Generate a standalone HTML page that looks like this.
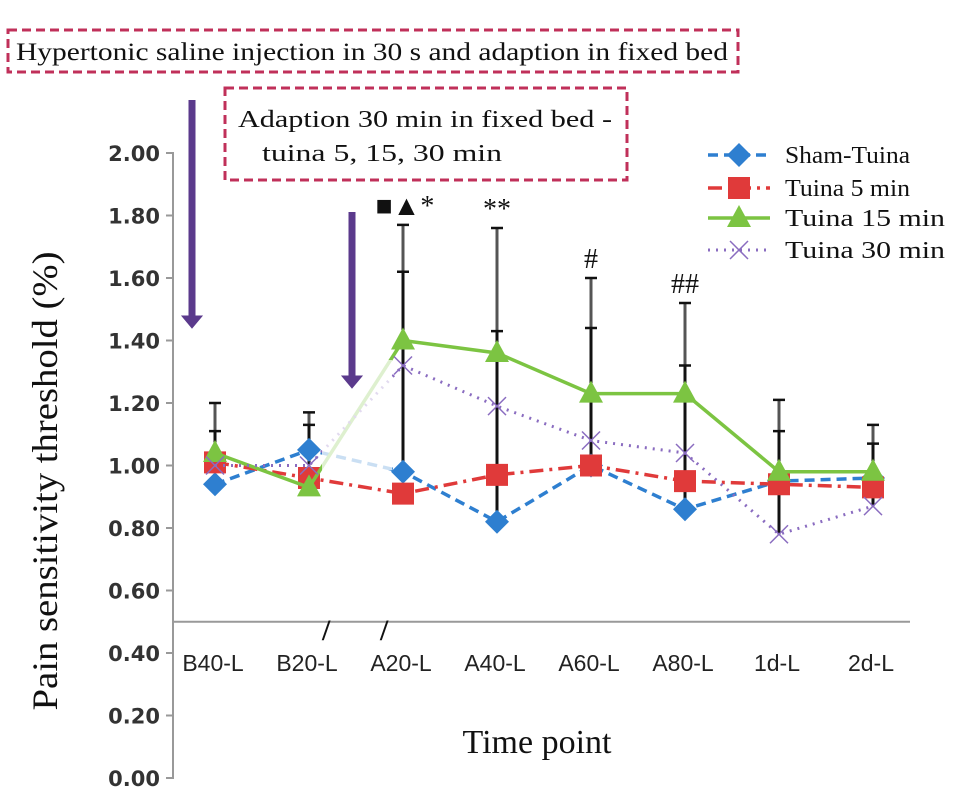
<!DOCTYPE html>
<html><head><meta charset="utf-8"><style>
body{margin:0;background:#fff;}
svg{display:block;}
.tk{font-family:"DejaVu Sans","Liberation Sans",sans-serif;font-weight:bold;font-size:21px;fill:#333;}
.xl{font-family:"Liberation Sans",sans-serif;font-size:23px;fill:#222;}
.sr{font-family:"Liberation Serif",serif;fill:#111;}
</style></head><body>
<svg id="chart" width="957" height="803" viewBox="0 0 957 803">
<rect x="8" y="30" width="730" height="42" fill="none" stroke="#c0305a" stroke-width="3" stroke-dasharray="9,5"/>
<text x="16" y="60" class="sr" font-size="25" textLength="712" lengthAdjust="spacingAndGlyphs">Hypertonic saline injection in 30 s and adaption in fixed bed</text>
<rect x="225" y="88" width="402" height="92" fill="none" stroke="#c0305a" stroke-width="3" stroke-dasharray="9,5"/>
<text x="238" y="127" class="sr" font-size="24" textLength="374" lengthAdjust="spacingAndGlyphs">Adaption 30 min in fixed bed -</text>
<text x="262" y="161" class="sr" font-size="24" textLength="240" lengthAdjust="spacingAndGlyphs">tuina 5, 15, 30 min</text>
<g fill="#5b3a8c" stroke="#5b3a8c">
<line x1="192" y1="100" x2="192" y2="318" stroke-width="7"/>
<polygon points="182,316 202,316 192,328"/>
<line x1="352" y1="212" x2="352" y2="378" stroke-width="7"/>
<polygon points="342,376 362,376 352,388"/>
</g>
<g id="axes"></g><g id="errs"></g><g id="series"></g>
<text transform="translate(57,481) rotate(-90)" text-anchor="middle" class="sr" font-size="36" textLength="459" lengthAdjust="spacingAndGlyphs">Pain sensitivity threshold (%)</text>
<text x="537" y="753" text-anchor="middle" class="sr" font-size="34">Time point</text>
<text x="322" y="640" class="sr" font-size="30" font-weight="bold">/</text>
<text x="380" y="640" class="sr" font-size="30" font-weight="bold">/</text>
<g id="legend"></g>
</svg>
<script>
const categories=["B40-L","B20-L","A20-L","A40-L","A60-L","A80-L","1d-L","2d-L"];
const sham=[0.94,1.05,0.98,0.82,1.00,0.86,0.95,0.96];
const tuina5=[1.01,0.96,0.91,0.97,1.00,0.95,0.94,0.93];
const tuina15=[1.04,0.93,1.40,1.36,1.23,1.23,0.98,0.98];
const tuina30=[1.00,1.00,1.32,1.19,1.08,1.04,0.78,0.87];
const errTop=[1.20,1.17,1.77,1.76,1.60,1.52,1.21,1.13];
const errMid=[1.11,1.13,1.62,1.43,1.44,1.32,1.11,1.07];
const errLow=[0.98,1.00,0.98,0.82,1.00,0.86,0.78,0.87];
const sigMarks=["","","■▲*","**","#","##","",""];
const yTicks=[0,0.2,0.4,0.6,0.8,1.0,1.2,1.4,1.6,1.8,2.0];
const NS="http://www.w3.org/2000/svg";
const y=v=>778-312.5*v;
const x=i=>215+94*i;
function mk(tag,attrs,parent,txt){const e=document.createElementNS(NS,tag);for(const k in attrs)e.setAttribute(k,attrs[k]);if(txt!==undefined)e.textContent=txt;parent.appendChild(e);return e;}
const ax=document.getElementById('axes');
let e=mk('line',{x1:173,y1:152,x2:173,y2:779,stroke:'#999','stroke-width':2},ax);


e=mk('line',{x1:173,y1:y(0.5),x2:910,y2:y(0.5),stroke:'#999','stroke-width':2},ax);


yTicks.forEach(v=>{
 mk('line',{x1:166,y1:y(v),x2:173,y2:y(v),stroke:'#999','stroke-width':2},ax);
 const t=mk('text',{x:160,y:y(v)+8,'text-anchor':'end',class:'tk'},ax,v.toFixed(2));
 
 
});
categories.forEach((c,i)=>{
 const t=mk('text',{x:x(i)-2,y:671,'text-anchor':'middle',class:'xl'},ax,c);
 
 
});
const er=document.getElementById('errs');
categories.forEach((c,i)=>{
 const g=mk('g',{},er);
 
 
 mk('line',{x1:x(i),y1:y(errLow[i]),x2:x(i),y2:y(errTop[i]),stroke:'#555','stroke-width':3},g);
 mk('line',{x1:x(i),y1:y(errLow[i]),x2:x(i),y2:y(errMid[i]),stroke:'#111','stroke-width':3},g);
 [errTop[i],errMid[i]].forEach(v=>mk('line',{x1:x(i)-6,y1:y(v),x2:x(i)+6,y2:y(v),stroke:'#111','stroke-width':2.5},g));
 if(sigMarks[i]){const t=mk('text',{x:x(i)+(i==2?2:0),y:y(errTop[i])-10,'text-anchor':'middle',class:'sr','font-size':28},er,sigMarks[i]);
 
 }
});
const series=[
 {name:'Sham-Tuina',data:sham,color:'#2e7fd0',dash:'10,6',w:3.5,m:'diamond'},
 {name:'Tuina 5 min',data:tuina5,color:'#e03a3a',dash:'14,6,3,6',w:3.5,m:'square'},
 {name:'Tuina 15 min',data:tuina15,color:'#7cc442',dash:'',w:3.5,m:'triangle'},
 {name:'Tuina 30 min',data:tuina30,color:'#8a6cc0',dash:'2,6',w:3,m:'x'}
];
const legendLen=[125,125,160,160];
function marker(g,m,cx,cy,color){
 if(m=='diamond')mk('polygon',{points:`${cx},${cy-12} ${cx+12},${cy} ${cx},${cy+12} ${cx-12},${cy}`,fill:color},g);
 else if(m=='square')mk('rect',{x:cx-11,y:cy-11,width:22,height:22,fill:color},g);
 else if(m=='triangle')mk('polygon',{points:`${cx},${cy-13} ${cx+12},${cy+9} ${cx-12},${cy+9}`,fill:color},g);
 else {mk('line',{x1:cx-9,y1:cy-9,x2:cx+9,y2:cy+9,stroke:color,'stroke-width':1.5},g);mk('line',{x1:cx-9,y1:cy+9,x2:cx+9,y2:cy-9,stroke:color,'stroke-width':1.5},g);}
}
const sg=document.getElementById('series');
const lg=document.getElementById('legend');
series.forEach((s,k)=>{
 const g=mk('g',{},sg);
 
 
 const pts=s.data.map((v,i)=>x(i)+','+y(v)).join(' ');
 mk('polyline',{points:pts,fill:'none',stroke:s.color,'stroke-width':s.w,'stroke-dasharray':s.dash},g);
 s.data.forEach((v,i)=>marker(g,s.m,x(i),y(v),s.color));
 const ly=[155,188,218,250][k];
 const le=mk('g',{},lg);
 
 
 mk('line',{x1:708,y1:ly,x2:770,y2:ly,stroke:s.color,'stroke-width':s.w,'stroke-dasharray':s.dash},le);
 marker(le,s.m,739,ly,s.color);
 mk('text',{x:785,y:ly+8,class:'sr','font-size':24,textLength:legendLen[k],lengthAdjust:'spacingAndGlyphs'},le,s.name);
});
const mask=mk('polygon',{points:'322,430 382,360 392,360 392,470 322,470',fill:'#fff',opacity:0.75},sg);


</script>
</body></html>
